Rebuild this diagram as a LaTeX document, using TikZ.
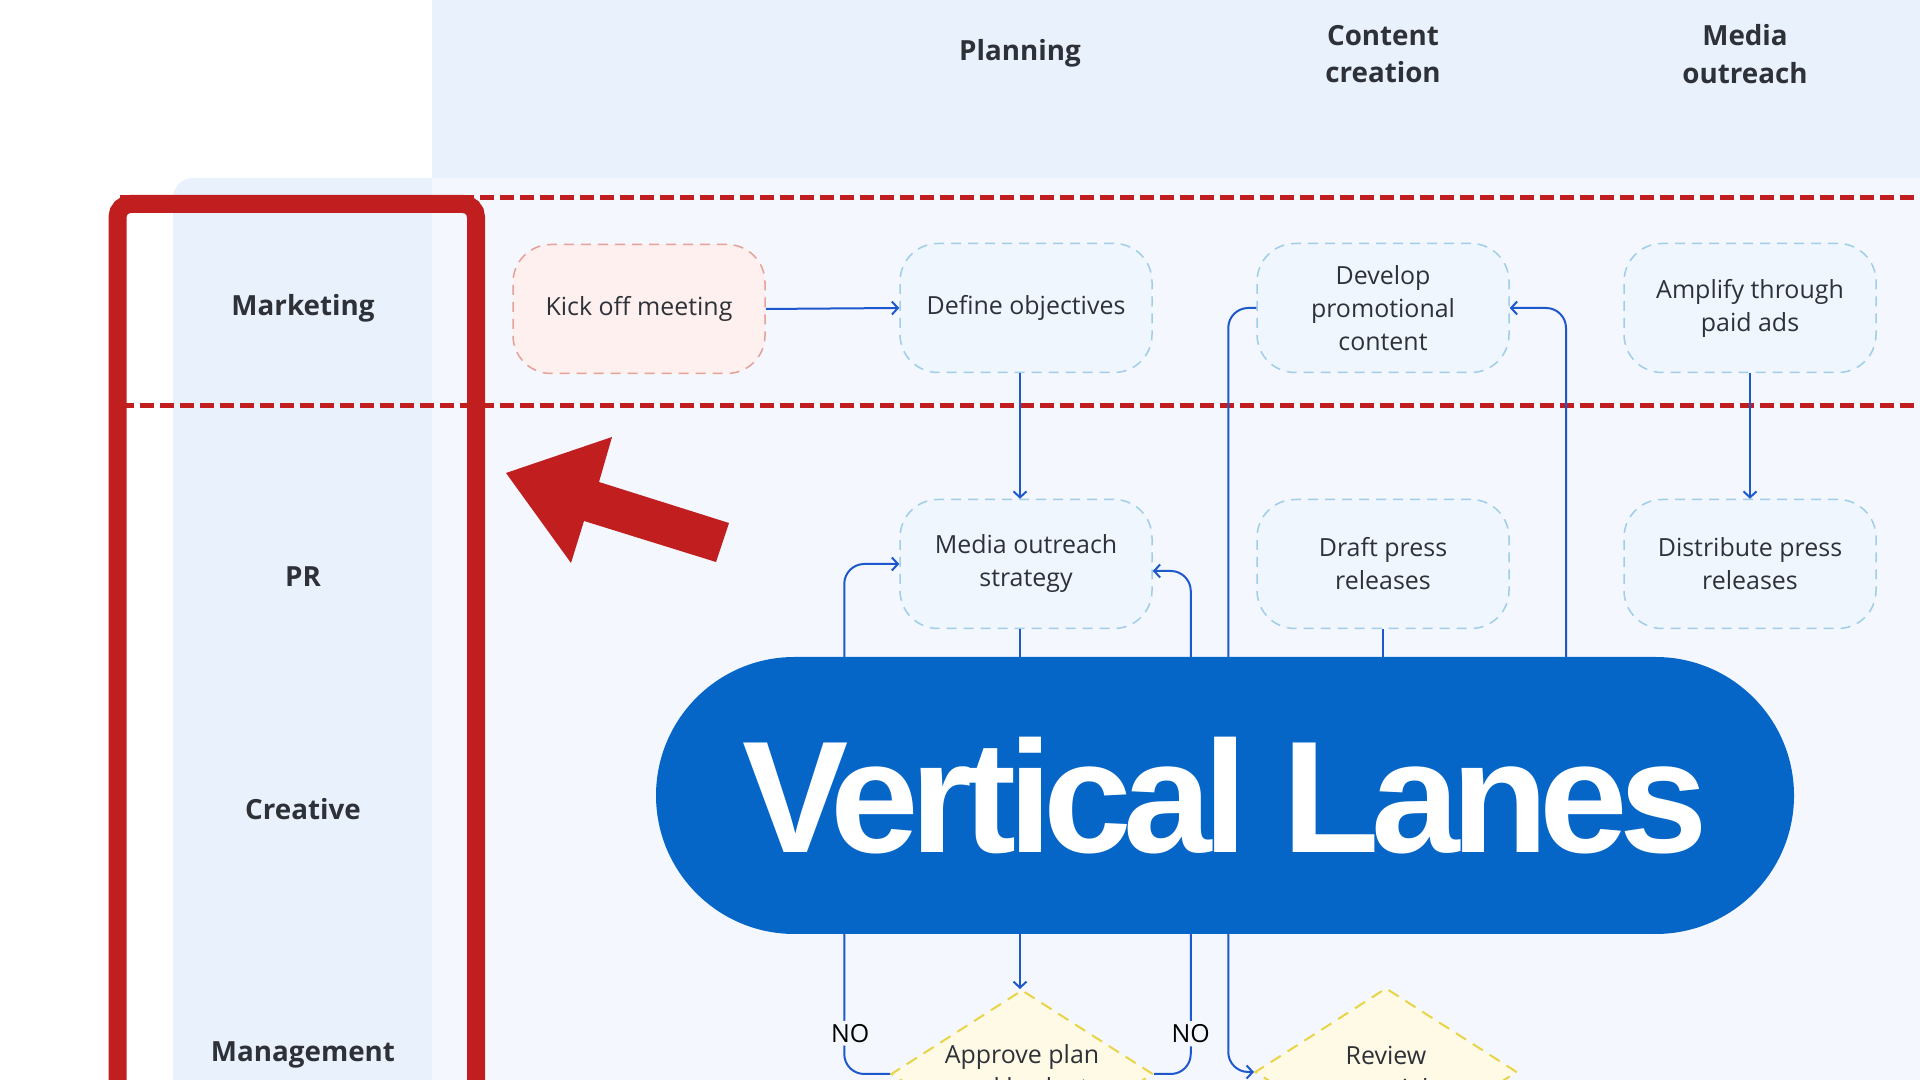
\documentclass[tikz,border=0pt]{standalone}
\usepackage{tikz}
\usetikzlibrary{shapes.geometric,arrows.meta,positioning,calc}
\usepackage{fontspec}
\setmainfont{Open Sans}
\newfontfamily\bannerfont[LetterSpace=-5.5]{Liberation Sans}
\definecolor{HeadBlue}{RGB}{233,241,252}
\definecolor{LaneBlue}{RGB}{244,248,254}
\definecolor{FlowBlue}{RGB}{30,88,205}
\definecolor{BoxBlue}{RGB}{160,205,232}
\definecolor{BoxFill}{RGB}{240,246,254}
\definecolor{KickRed}{RGB}{230,160,152}
\definecolor{KickFill}{RGB}{253,240,238}
\definecolor{DecYellow}{RGB}{232,212,70}
\definecolor{DecFill}{RGB}{255,250,230}
\definecolor{BannerBlue}{RGB}{5,102,200}
\definecolor{MarkRed}{RGB}{193,31,31}
\definecolor{TextGray}{RGB}{46,50,56}

\begin{document}
\begin{tikzpicture}[
  hdr/.style={font=\bfseries\fontsize{7.9}{10.6}\selectfont,text=TextGray,align=center},
  lanelbl/.style={font=\bfseries\fontsize{7.9}{10.6}\selectfont,text=TextGray},
  task/.style={draw=BoxBlue,fill=BoxFill,dash pattern=on 0.1cm off 0.07cm,line width=0.015cm,
               rounded corners=0.38cm,minimum width=2.52cm,minimum height=1.29cm,align=center,
               font=\fontsize{7.1}{9.4}\selectfont,text=TextGray},
  kick/.style={task,draw=KickRed,fill=KickFill},
  dec/.style={diamond,draw=DecYellow,fill=DecFill,dash pattern=on 0.12cm off 0.08cm,line width=0.02cm,
              aspect=1.62,inner sep=0pt,minimum width=2.62cm,minimum height=1.68cm,align=center,
              font=\fontsize{7.1}{9.4}\selectfont,text=TextGray},
  flow/.style={draw=FlowBlue,line width=0.02cm,rounded corners=0.2cm,
               -{Straight Barb[length=0.6mm,width=1.3mm]}},
  nolbl/.style={fill=LaneBlue,inner sep=1pt,font=\fontsize{7.1}{9.4}\selectfont,text=black},
  banner/.style={fill=BannerBlue,rounded corners=1.385cm,minimum width=11.38cm,minimum height=2.77cm,
                 text=white,font=\bannerfont\bfseries\fontsize{45.3}{50}\selectfont},
  markdash/.style={draw=MarkRed,line width=0.05cm,dash pattern=on 0.14cm off 0.06cm},
]
\useasboundingbox (0,0) rectangle (19.2,10.8);
\clip (0,0) rectangle (19.2,10.8);
\fill[HeadBlue] (4.32,9.02) rectangle (19.2,10.8);
\fill[HeadBlue,rounded corners=0.2cm] (1.73,-0.5) rectangle (4.62,9.02);
\fill[LaneBlue] (4.32,-0.5) rectangle (19.2,9.02);
\draw[markdash] (1.2,8.82) -- (19.2,8.82);
\draw[markdash] (1.2,6.74) -- (19.2,6.74);

\node[hdr] (plan) at (10.20,10.27) {Planning};
\node[hdr] (cont) at (13.83,10.26) {Content\\creation};
\node[hdr] (outr) at (17.45,10.26) {Media\\outreach};

\node[lanelbl] (mkt) at (3.03,7.72) {Marketing};
\node[lanelbl] (pr) at (3.03,5.03) {PR};
\node[lanelbl] (crea) at (3.03,2.71) {Creative};
\node[lanelbl] (mgmt) at (3.03,0.25) {Management};

\node[kick] (kick) at (6.39,7.71) {Kick off meeting};
\node[task] (def) at (10.26,7.72) {Define objectives};
\node[task] (dev) at (13.83,7.72) {Develop\\promotional\\content};
\node[task] (amp) at (17.50,7.72) {Amplify through\\paid ads};
\node[task] (mos) at (10.26,5.16) {Media outreach\\strategy};
\node[task] (dpr) at (13.83,5.16) {Draft press\\releases};
\node[task] (dis) at (17.50,5.16) {Distribute press\\releases};
\node[dec] (app) at (10.22,0.06) {Approve plan\\and budget};
\node[dec] (rev) at (13.86,0.08) {Review\\materials};
\coordinate (hidA) at (15.66,3.0);
\coordinate (hidB) at (13.83,3.0);

\draw[flow] (kick.east) -- (def.west);
\draw[flow] (def.south -| plan) -- (mos.north -| plan);
\draw[flow] (amp.south) -- (dis.north);
\draw[flow] (mos.south -| plan) -- (app.north -| plan);
\draw[flow] (app.west) -| node[nolbl,pos=0.54,xshift=0.06cm]{NO} ([xshift=-0.55cm]mos.west) -- (mos.west);
\draw[flow] (app.east) -| node[nolbl,pos=0.54]{NO} ([xshift=0.38cm,yshift=-0.07cm]mos.east)
  -- ([yshift=-0.07cm]mos.east);
\draw[flow] (dev.west) -- ++(-0.28,0) |- (rev.west);
\draw[flow] (hidA) |- (dev.east);
\draw[draw=FlowBlue,line width=0.02cm] (dpr.south) -- (hidB);

\node[banner] (vl) at (12.25,2.845) {Vertical Lanes};

\draw[MarkRed,line width=0.18cm,rounded corners=0.13cm] (1.175,-0.5) rectangle (4.76,8.76);
\fill[MarkRed] (5.06,6.07) -- (6.12,6.43) -- (5.99,5.98) -- (7.29,5.57) -- (7.16,5.18)
  -- (5.84,5.59) -- (5.71,5.17) -- cycle;
\end{tikzpicture}
\end{document}
